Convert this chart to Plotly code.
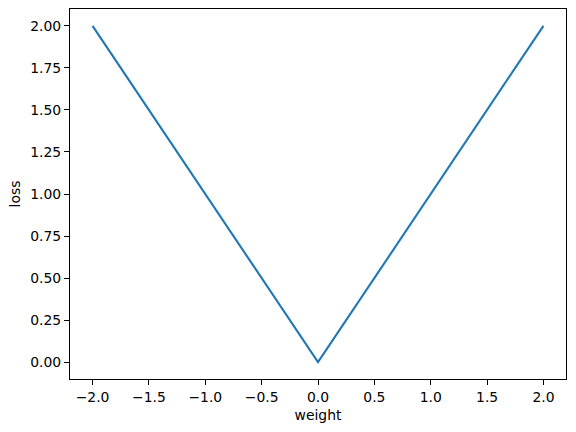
import plotly.graph_objects as go

weight = [-2.0, 0.0, 2.0]
loss = [2.0, 0.0, 2.0]

x_ticks = [-2.0, -1.5, -1.0, -0.5, 0.0, 0.5, 1.0, 1.5, 2.0]
y_ticks = [0.0, 0.25, 0.5, 0.75, 1.0, 1.25, 1.5, 1.75, 2.0]

fig = go.Figure()
fig.add_trace(go.Scatter(x=weight, y=loss, mode="lines",
                         line=dict(color="#1f77b4", width=2.1),
                         showlegend=False))

font = dict(family="DejaVu Sans", size=13.9, color="black")
axis_common = dict(showgrid=False, zeroline=False, showline=True, mirror=True,
                   linecolor="black", linewidth=1.1, ticks="outside",
                   ticklen=5, tickwidth=1.1, tickcolor="black",
                   tickfont=font)

fig.update_layout(
    width=576, height=432,
    margin=dict(l=70, r=10, t=9, b=53),
    paper_bgcolor="white", plot_bgcolor="white",
    font=font,
    xaxis=dict(range=[-2.2, 2.2], tickvals=x_ticks, tickformat=".1f",
               title=dict(text="weight", font=font, standoff=6), **axis_common),
    yaxis=dict(range=[-0.1, 2.1], tickvals=y_ticks, tickformat=".2f",
               title=dict(text="loss", font=font, standoff=6), **axis_common),
)

fig.write_html("out.html",
               config={"displayModeBar": False},
               post_script="document.body.style.margin='0';document.body.style.padding='0';")
